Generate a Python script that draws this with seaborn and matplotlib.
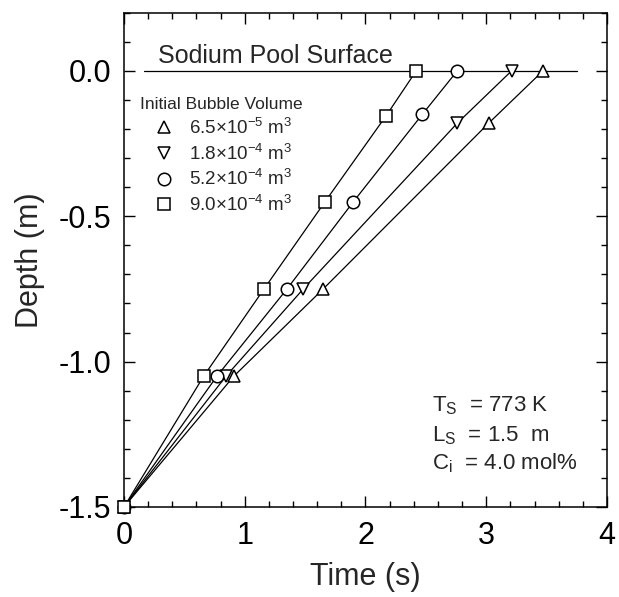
import matplotlib
matplotlib.use("Agg")
import matplotlib.pyplot as plt
from matplotlib.lines import Line2D
from matplotlib.ticker import MultipleLocator
import seaborn as sns
import pandas as pd

# ---- data ----
time_up = [0.0, 0.91, 1.65, 3.02, 3.47]
depth_up = [-1.5, -1.05, -0.75, -0.18, 0.0]
time_down = [0.0, 0.845, 1.485, 2.76, 3.21]
depth_down = [-1.5, -1.05, -0.75, -0.18, 0.0]
time_circ = [0.0, 0.77, 1.35, 1.90, 2.47, 2.76]
depth_circ = [-1.5, -1.05, -0.75, -0.45, -0.15, 0.0]
time_sq = [0.0, 0.66, 1.16, 1.665, 2.17, 2.42]
depth_sq = [-1.5, -1.05, -0.75, -0.45, -0.155, 0.0]

series_labels = [r"$\mathregular{6.5{×}10^{-5}\ m^{3}}$",
                 r"$\mathregular{1.8{×}10^{-4}\ m^{3}}$",
                 r"$\mathregular{5.2{×}10^{-4}\ m^{3}}$",
                 r"$\mathregular{9.0{×}10^{-4}\ m^{3}}$"]
series_markers = ["^", "v", "o", "s"]

surface_x = [0.165, 3.75]
surface_y = [0.0, 0.0]

xticks = [0, 1, 2, 3, 4]
yticks = [-1.5, -1.0, -0.5, 0.0]

# ---- style ----
sns.set_style("ticks")
plt.rcParams["font.family"] = ["Liberation Sans", "DejaVu Sans"]
plt.rcParams["mathtext.fontset"] = "custom"
plt.rcParams["mathtext.rm"] = "Liberation Sans"
plt.rcParams["mathtext.it"] = "Liberation Sans:italic"
plt.rcParams["mathtext.fallback"] = "stixsans"
plt.rcParams["axes.unicode_minus"] = False

frames = []
for name, t, d in [("up", time_up, depth_up), ("down", time_down, depth_down),
                   ("circ", time_circ, depth_circ), ("sq", time_sq, depth_sq)]:
    frames.append(pd.DataFrame({"Time": t, "Depth": d, "series": name}))
df = pd.concat(frames, ignore_index=True)
order = ["up", "down", "circ", "sq"]

fig = plt.figure(figsize=(6.19, 5.97), dpi=100)
ax = fig.add_axes([0.2003, 0.1508, 0.7803, 0.8279])

ax.plot(surface_x, surface_y, color="black", lw=0.9, zorder=1)

sns.lineplot(data=df, x="Time", y="Depth", hue="series", hue_order=order,
             palette=["black"] * 4, style="series", style_order=order,
             markers=dict(zip(order, series_markers)), dashes=False,
             markerfacecolor="white", markeredgecolor="black",
             markeredgewidth=1.1, markersize=9, linewidth=0.9,
             sort=False, legend=False, ax=ax, zorder=3, clip_on=False)

ax.set_xlim(0, 4)
ax.set_ylim(-1.5, 0.2)
ax.set_xticks(xticks)
ax.set_xticklabels([str(v) for v in xticks])
ax.set_yticks(yticks)
ax.set_yticklabels([f"{v:.1f}" for v in yticks])
ax.xaxis.set_minor_locator(MultipleLocator(0.2))
ax.yaxis.set_minor_locator(MultipleLocator(0.1))
ax.tick_params(which="both", direction="in", top=True, right=True, width=1.0,
               colors="black")
ax.tick_params(which="major", length=8, labelsize=22)
ax.tick_params(axis="x", which="major", pad=10)
ax.tick_params(axis="y", which="major", pad=9)
ax.tick_params(which="minor", length=4.5)
for s in ax.spines.values():
    s.set_linewidth(1.1)
    s.set_color("black")

ax.set_xlabel("Time (s)", fontsize=22, labelpad=8)
ax.set_ylabel("Depth (m)", fontsize=22, labelpad=10)

ax.text(0.28, 0.0275, "Sodium Pool Surface", fontsize=18, ha="left",
        va="baseline")

handles = [Line2D([], [], linestyle="none", marker=m, markersize=9,
                  markerfacecolor="white", markeredgecolor="black",
                  markeredgewidth=1.1) for m in series_markers]
leg = ax.legend(handles, series_labels, title="Initial Bubble Volume",
                loc="upper left", bbox_to_anchor=(0.014, 0.848),
                frameon=False, fontsize=13.5, title_fontsize=12.5,
                borderpad=0, labelspacing=0.3, handlelength=2.5,
                handletextpad=0.1, alignment="left")
leg._legend_box.sep = 4

ax.text(2.55, -1.17, r"T$_{\mathregular{S}}$  = 773 K", fontsize=16,
        va="baseline")
ax.text(2.55, -1.275, r"L$_{\mathregular{S}}$  = 1.5  m", fontsize=16,
        va="baseline")
ax.text(2.55, -1.37, r"C$_{\mathregular{i}}$  = 4.0 mol%", fontsize=16,
        va="baseline")

fig.savefig("out.png", dpi=100)
